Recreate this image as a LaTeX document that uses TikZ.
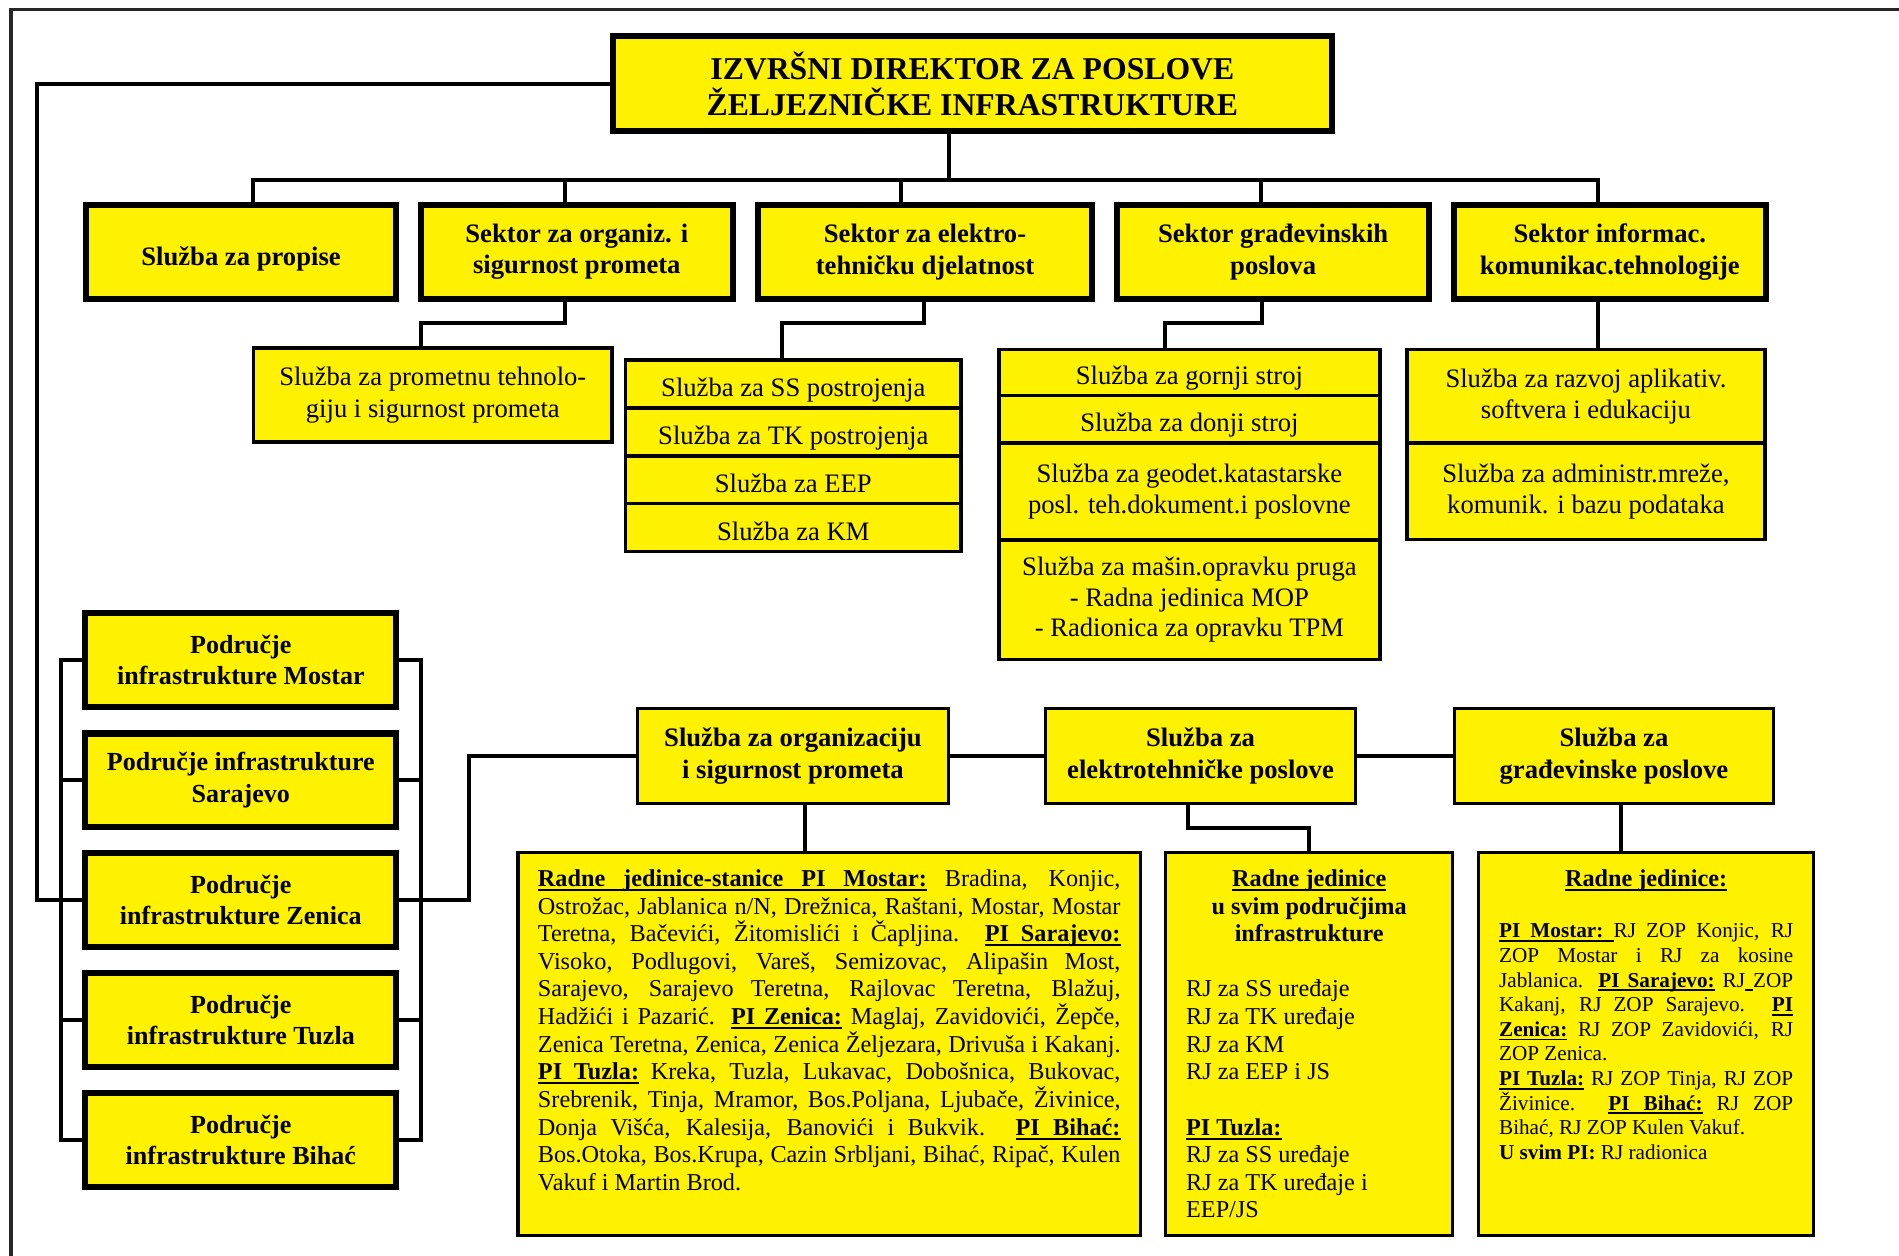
\documentclass[tikz,border=0pt]{standalone}
\usepackage{fontspec}
\setmainfont{Liberation Serif}

\newcommand{\tekst}{\fontsize{20}{22.8}\selectfont}
\newcommand{\sitno}{\fontsize{17.5}{20.3}\selectfont}
% podvucena rijec i podvuceni razmak (razmak se rasteze u poravnatom redu)
\newcommand{\pvrijec}[1]{\leavevmode\setbox0\hbox{\textbf{#1}}\rlap{\rule[-0.19em]{\wd0}{0.08em}}\box0\relax}
\newcommand{\pvrazmak}{\leavevmode\leaders\hrule height -0.11em depth 0.19em
  \hskip\fontdimen2\font plus\fontdimen3\font minus\fontdimen4\font\relax}
\makeatletter
\newcommand{\podvuci}[1]{\podv@rijec#1 \@nil}
\def\podv@rijec#1 #2\@nil{\pvrijec{#1}\ifx\relax#2\relax\else\pvrazmak\podv@rijec#2\@nil\fi}
\makeatother
\newcommand{\spusti}[2]{\raisebox{-#1}[\height][\depth]{#2}}

\tikzset{
  kutija/.style={draw, fill=yellow, align=center, inner sep=2pt},
  wh/.style 2 args={minimum width=#1pt, minimum height=#2pt},
  direktor/.style={kutija, line width=5pt, wh={593.3}{78.7},
    font=\fontsize{26.2}{30}\selectfont\bfseries},
  sektor/.style={kutija, line width=5pt, wh={257.5}{78},
    font=\fontsize{22}{26}\selectfont\bfseries},
  podrucje/.style={kutija, line width=5pt, wh={256.7}{77.3},
    font=\fontsize{21.5}{26}\selectfont\bfseries},
  sluzba/.style={kutija, line width=3pt, font=\fontsize{22}{26}\selectfont},
  odjel/.style={kutija, line width=2.5pt, minimum height=78.5pt,
    font=\fontsize{22}{26}\selectfont\bfseries},
  opis/.style={draw, fill=yellow, line width=2.5pt, inner ysep=12pt},
  veza/.style={line width=3.3pt},
  okvir/.style={line width=3pt, black!85},
}

\begin{document}
\begin{tikzpicture}[x=1pt, y=-1pt]
\useasboundingbox (0,0) rectangle (1568,1037);
\draw[okvir] (9,1040) -- (9,7.8) -- (1570,7.8);

% direktor
\node[direktor] (dir) at (802.9,69.1) {IZVRŠNI DIREKTOR ZA POSLOVE\\ŽELJEZNIČKE INFRASTRUKTURE};

% sektori
\node[sektor, minimum width=256pt] (s1) at (199,208) {\spusti{6pt}{Služba za propise}};
\node[sektor] (s2) at (476.25,208) {Sektor za organiz. i\\sigurnost prometa};
\node[sektor, minimum width=276.5pt] (s3) at (763.75,208) {Sektor za elektro-\\tehničku djelatnost};
\node[sektor] (s4) at (1051.25,208) {Sektor građevinskih\\poslova};
\node[sektor] (s5) at (1329.25,208) {Sektor informac.\\komunikac.tehnologije};

% sluzbe u sektorima
\node[sluzba, wh={296.3}{77.5}] (prom) at (357.35,326.25) {Služba za prometnu tehnolo-\\giju i sigurnost prometa};

\node[sluzba, wh={277}{39.5}] (ss) at (655,317) {\spusti{5pt}{Služba za SS postrojenja}};
\node[sluzba, wh={277}{39.5}] (tk) at (655,356.5) {\spusti{5pt}{Služba za TK postrojenja}};
\node[sluzba, wh={277}{39.5}] (eep) at (655,396) {\spusti{3pt}{Služba za EEP}};
\node[sluzba, wh={277}{39.5}] (km) at (655,435.5) {\spusti{3pt}{Služba za KM}};

\node[sluzba, wh={314.6}{38}] (gornji) at (982.1,307.5) {\spusti{5pt}{Služba za gornji stroj}};
\node[sluzba, wh={314.6}{39.5}] (donji) at (982.1,346.25) {\spusti{5pt}{Služba za donji stroj}};
\node[sluzba, wh={314.6}{80}] (geodet) at (982.1,406) {Služba za geodet.katastarske\\posl. teh.dokument.i poslovne};
\node[sluzba, wh={314.6}{98.5}, font=\fontsize{22}{25}\selectfont] (masin) at (982.1,495.25)
  {Služba za mašin.opravku pruga\\- Radna jedinica MOP\\- Radionica za opravku TPM};

\node[sluzba, wh={296}{77.5}] (razvoj) at (1309.5,327.25) {Služba za razvoj aplikativ.\\softvera i edukaciju};
\node[sluzba, wh={296}{79.5}] (admin) at (1309.5,405.75) {Služba za administr.mreže,\\komunik. i bazu podataka};

% podrucja infrastrukture
\node[podrucje] (pi1) at (198.85,544.8) {Područje\\infrastrukture Mostar};
\node[podrucje] (pi2) at (198.85,644.3) {Područje infrastrukture\\Sarajevo};
\node[podrucje] (pi3) at (198.85,743.3) {Područje\\infrastrukture Zenica};
\node[podrucje] (pi4) at (198.85,842.3) {Područje\\infrastrukture Tuzla};
\node[podrucje] (pi5) at (198.85,941.4) {Područje\\infrastrukture Bihać};

% sluzbe u podrucjima
\node[odjel, minimum width=256.5pt] (org) at (654.75,624.25) {Služba za organizaciju\\i sigurnost prometa};
\node[odjel, minimum width=256.2pt] (elek) at (991.3,624.25) {Služba za\\elektrotehničke poslove};
\node[odjel, minimum width=262.9pt] (grad) at (1332.65,624.25) {Služba za\\građevinske poslove};

% radne jedinice
\node[opis, inner xsep=16.5pt] (rjorg) at (684.7,862.15) {\parbox[t][292.3pt][t]{481pt}{\tekst\strut
\podvuci{Radne jedinice-stanice PI Mostar:} Bradina, Konjic,\linebreak
Ostrožac, Jablanica n/N, Drežnica, Raštani, Mostar, Mostar\linebreak
Teretna, Bačevići, Žitomislići i Čapljina. \podvuci{PI Sarajevo:}\linebreak
Visoko, Podlugovi, Vareš, Semizovac, Alipašin Most,\linebreak
Sarajevo, Sarajevo Teretna, Rajlovac Teretna, Blažuj,\linebreak
Hadžići i Pazarić. \podvuci{PI Zenica:} Maglaj, Zavidovići, Žepče,\linebreak
Zenica Teretna, Zenica, Zenica Željezara, Drivuša i Kakanj.\linebreak
\podvuci{PI Tuzla:} Kreka, Tuzla, Lukavac, Dobošnica, Bukovac,\linebreak
Srebrenik, Tinja, Mramor, Bos.Poljana, Ljubače, Živinice,\linebreak
Donja Višća, Kalesija, Banovići i Bukvik. \podvuci{PI Bihać:}\linebreak
Bos.Otoka, Bos.Krupa, Cazin Srbljani, Bihać, Ripač, Kulen\linebreak
Vakuf i Martin Brod.}};

\node[opis, inner xsep=16.7pt] (rjelek) at (1081,862.15) {\parbox[t][292.3pt][t]{203.2pt}{\tekst\centering\strut
\podvuci{Radne jedinice}\\ \textbf{u svim područjima}\\ \textbf{infrastrukture}\par
\raggedright\vspace{\baselineskip}
RJ za SS uređaje\\ RJ za TK uređaje\\ RJ za KM\\ RJ za EEP i JS\par
\vspace{\baselineskip}
\podvuci{PI Tuzla:}\\ RJ za SS uređaje\\ RJ za TK uređaje i\\ EEP/JS}};

\node[opis, inner xsep=17pt] (rjgrad) at (1359.2,862.15) {\parbox[t][292.3pt][t]{242.8pt}{\tekst\strut
\makebox[\linewidth]{\podvuci{Radne jedinice:}}\par
\vspace{22.2pt}\sitno
\podvuci{PI Mostar:}\pvrazmak RJ ZOP Konjic, RJ\linebreak
ZOP Mostar i RJ za kosine\linebreak
Jablanica. \podvuci{PI Sarajevo:} RJ\pvrazmak ZOP\linebreak
Kakanj, RJ ZOP Sarajevo. \podvuci{PI}\linebreak
\podvuci{Zenica:} RJ ZOP Zavidovići, RJ\linebreak
ZOP Zenica.\\
\podvuci{PI Tuzla:} RJ ZOP Tinja, RJ ZOP\linebreak
Živinice. \podvuci{PI Bihać:} RJ ZOP\linebreak
Bihać, RJ ZOP Kulen Vakuf.\\
\textbf{U svim PI:} RJ radionica}};

% veze gore
\draw[veza] (dir.west) -| ([xshift=-37.7pt]pi3.west) -- (pi3.west);
\draw[veza] ([xshift=-19pt]dir.south) -- ++(0,37.6);
\draw[veza] ([xshift=10pt]s1.north) -- ++(0,-18) -| ([xshift=-10pt]s5.north);
\draw[veza] ([xshift=-10pt]s2.north) -- ++(0,-18);
\draw[veza] ([xshift=-20pt]s3.north) -- ++(0,-18);
\draw[veza] ([xshift=-10pt]s4.north) -- ++(0,-18);

\draw[veza] ([xshift=-10pt]s2.south) -- ++(0,17.5) -| ([xshift=-9.4pt]prom.north);
\draw[veza] ([xshift=-0.7pt]s3.south) -- ++(0,17.5) -| ([xshift=-9.4pt]ss.north);
\draw[veza] ([xshift=-9.5pt]s4.south) -- ++(0,17.5) -| ([xshift=-20pt]gornji.north);
\coordinate (s5d) at ([xshift=-10pt]s5.south);
\draw[veza] (s5d) -- (s5d |- razvoj.north);

% veze dolje
\draw[veza] (pi1.west) -- ++(-17.6,0) |- (pi5.west);
\draw[veza] (pi2.west) -- ++(-17.6,0);
\draw[veza] (pi4.west) -- ++(-17.6,0);
\draw[veza] (pi1.east) -- ++(17.7,0) |- (pi5.east);
\draw[veza] (pi2.east) -- ++(17.7,0);
\draw[veza] (pi4.east) -- ++(17.7,0);
\draw[veza] (pi3.east) -- ++(57.6,0) |- (org.west);

\draw[veza] (org.east) -- (elek.west);
\draw[veza] (elek.east) -- (grad.west);
\coordinate (od) at ([xshift=10pt]org.south);
\draw[veza] (od) -- (od |- rjorg.north);
\draw[veza] ([xshift=-10pt]elek.south) -- ++(0,19) -| (rjelek.north);
\coordinate (gd) at ([xshift=6pt]grad.south);
\draw[veza] (gd) -- (gd |- rjgrad.north);
\end{tikzpicture}
\end{document}
